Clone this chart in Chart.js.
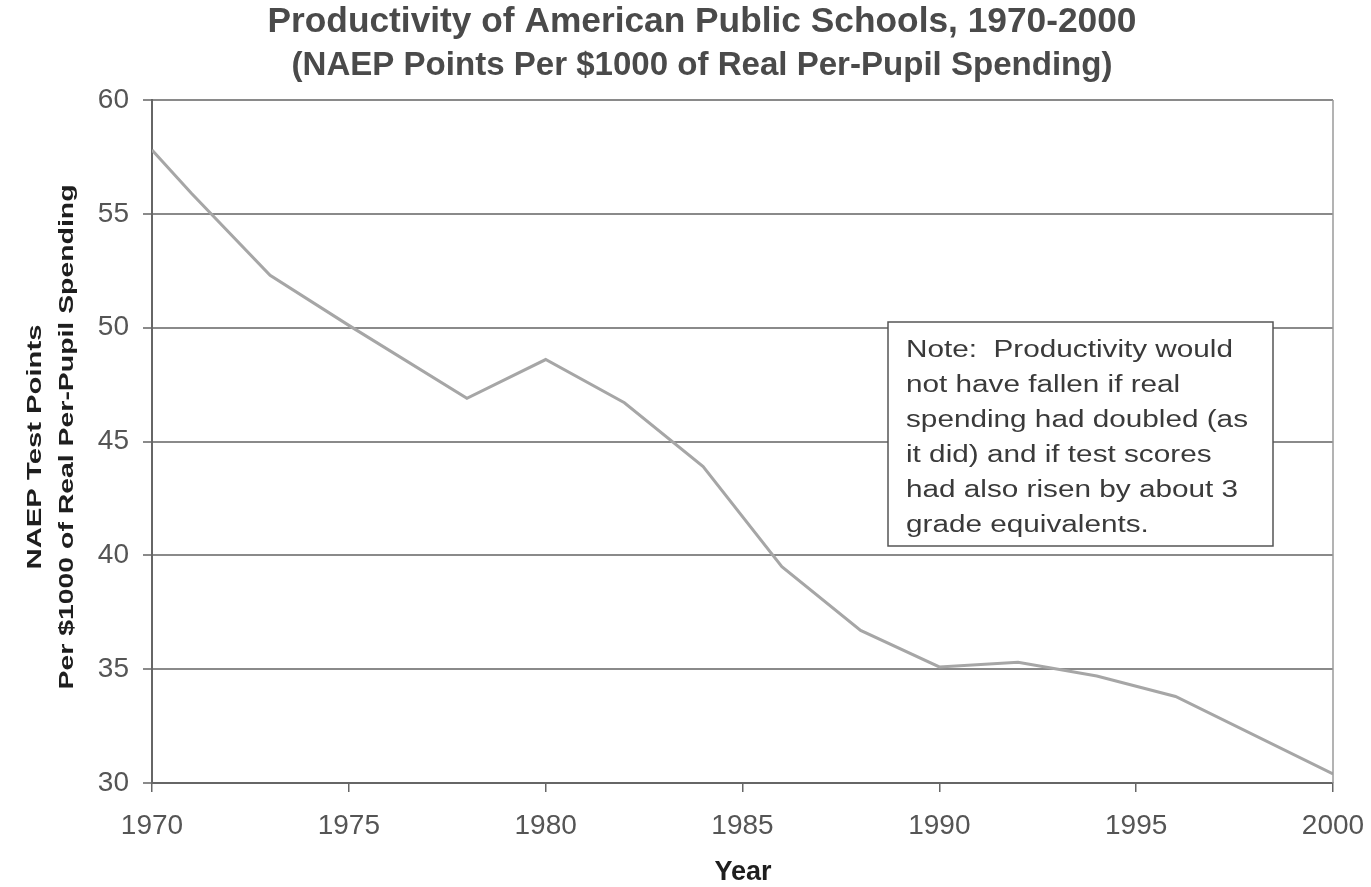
<!DOCTYPE html>
<html>
<head>
<meta charset="utf-8">
<script src="https://cdn.jsdelivr.net/npm/chart.js@4.4.1/dist/chart.umd.min.js"></script>
<style>
  html, body { margin: 0; padding: 0; background: #fff; }
  #wrap { width: 1371px; height: 887px; position: relative; }
</style>
</head>
<body>
<div id="wrap"><canvas id="chart"></canvas></div>
<script>
const years = [1970, 1971, 1973, 1975, 1978, 1980, 1982, 1984, 1986, 1988, 1990, 1992, 1994, 1996, 2000];
const pointsPer1000 = [57.8, 55.9, 52.3, 50.1, 46.9, 48.6, 46.7, 43.9, 39.5, 36.7, 35.1, 35.3, 34.7, 33.8, 30.4];
const yTicks = [30, 35, 40, 45, 50, 55, 60];
const xTicks = [1970, 1975, 1980, 1985, 1990, 1995, 2000];

const titleText = 'Productivity of American Public Schools, 1970-2000';
const subtitleText = '(NAEP Points Per $1000 of Real Per-Pupil Spending)';
const yTitleLines = ['NAEP Test Points', 'Per $1000 of Real Per-Pupil Spending'];
const xTitleText = 'Year';
const noteLines = [
  'Note:  Productivity would',
  'not have fallen if real',
  'spending had doubled (as',
  'it did) and if test scores',
  'had also risen by about 3',
  'grade equivalents.',
];

const FONT = '"Liberation Sans", Arial, sans-serif';

// draws text squeezed/stretched along its baseline by sx
function drawStretched(ctx, text, x, y, sx) {
  ctx.save();
  ctx.translate(x, y);
  ctx.scale(sx, 1);
  ctx.fillText(text, 0, 0);
  ctx.restore();
}

const decorPlugin = {
  id: 'decor',
  afterDraw(chart) {
    const ctx = chart.ctx;
    const area = chart.chartArea;
    ctx.save();

    // right frame edge
    ctx.strokeStyle = '#9a9a9a';
    ctx.lineWidth = 1.5;
    ctx.beginPath();
    ctx.moveTo(area.right, area.top);
    ctx.lineTo(area.right, area.bottom);
    ctx.stroke();

    // titles
    ctx.fillStyle = '#4a4a4a';
    ctx.textAlign = 'center';
    ctx.textBaseline = 'middle';
    ctx.font = 'bold 35px ' + FONT;
    drawStretched(ctx, titleText, 702, 22, 869 / ctx.measureText(titleText).width);
    ctx.font = 'bold 33px ' + FONT;
    drawStretched(ctx, subtitleText, 702, 66, 821 / ctx.measureText(subtitleText).width);

    // x title
    ctx.fillStyle = '#1e1e1e';
    ctx.font = 'bold 27px ' + FONT;
    ctx.fillText(xTitleText, 743, 873);

    // y title
    ctx.save();
    ctx.translate(35, 447);
    ctx.rotate(-Math.PI / 2);
    ctx.font = 'bold 20px ' + FONT;
    drawStretched(ctx, yTitleLines[0], 0, 0, 245 / ctx.measureText(yTitleLines[0]).width);
    drawStretched(ctx, yTitleLines[1], 10, 32, 505 / ctx.measureText(yTitleLines[1]).width);
    ctx.restore();

    // note box
    const bx = 888, by = 322, bw = 385, bh = 224;
    ctx.fillStyle = '#fff';
    ctx.fillRect(bx, by, bw, bh);
    ctx.strokeStyle = '#555';
    ctx.lineWidth = 1.5;
    ctx.strokeRect(bx, by, bw, bh);
    ctx.fillStyle = '#3a3a3a';
    ctx.textAlign = 'left';
    ctx.textBaseline = 'middle';
    ctx.font = '23px ' + FONT;
    const ns = 327 / ctx.measureText(noteLines[0]).width;
    noteLines.forEach((line, i) => {
      drawStretched(ctx, line, bx + 18, by + 29 + i * 35, ns);
    });

    ctx.restore();
  },
};

function createChart() {
  const ctx = document.getElementById('chart').getContext('2d');
  return new Chart(ctx, {
    type: 'line',
    data: {
      datasets: [{
        data: years.map((y, i) => ({ x: y, y: pointsPer1000[i] })),
        borderColor: '#a6a6a6',
        borderWidth: 3,
        pointRadius: 0,
        tension: 0,
        fill: false,
      }],
    },
    options: {
      responsive: true,
      maintainAspectRatio: false,
      animation: false,
      layout: { padding: { top: 100, right: 38, left: 0, bottom: 0 } },
      plugins: {
        legend: { display: false },
        tooltip: { enabled: false },
      },
      scales: {
        x: {
          type: 'linear',
          min: 1970,
          max: 2000,
          afterFit(scale) {
            scale.height = 104;
            scale.paddingLeft = 0;
            scale.paddingRight = 0;
          },
          afterBuildTicks(scale) { scale.ticks = xTicks.map(v => ({ value: v })); },
          grid: {
            drawOnChartArea: false,
            drawTicks: true,
            tickLength: 9,
            color: '#666',
            lineWidth: 1.5,
          },
          border: { color: '#666', width: 2 },
          ticks: {
            padding: 17,
            color: '#555',
            font: { family: FONT, size: 28 },
            callback: v => String(v),
          },
        },
        y: {
          min: 30,
          max: 60,
          afterFit(scale) {
            scale.width = 152;
            scale.paddingTop = 0;
            scale.paddingBottom = 0;
          },
          afterBuildTicks(scale) { scale.ticks = yTicks.map(v => ({ value: v })); },
          grid: {
            color: '#8a8a8a',
            lineWidth: 2,
            tickLength: 9,
          },
          border: { color: '#666', width: 2 },
          ticks: {
            padding: 14,
            color: '#555',
            font: { family: FONT, size: 28 },
          },
        },
      },
    },
    plugins: [decorPlugin],
  });
}

document.addEventListener('DOMContentLoaded', () => {
  createChart();
});
</script>
</body>
</html>
